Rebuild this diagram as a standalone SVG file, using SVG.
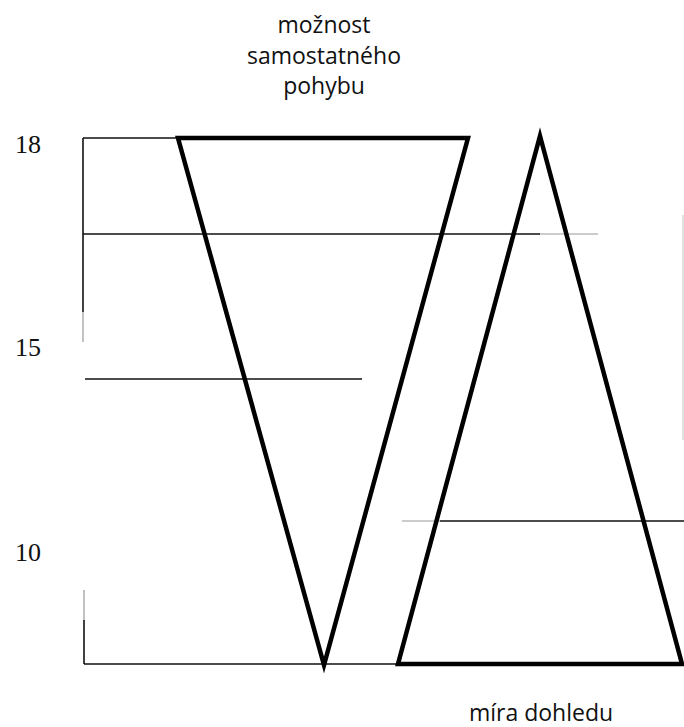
<svg xmlns="http://www.w3.org/2000/svg" width="684" height="727" viewBox="0 0 684 727">
<style>
.thin{stroke:#111;stroke-width:1.6;fill:none;stroke-linecap:butt}
.faint{stroke:#999;stroke-width:1.2;fill:none}
.thick{stroke:#000;stroke-width:4.5;fill:none;stroke-linejoin:miter}
.lab{font-family:"Open Sans","Noto Sans",sans-serif;font-size:23px;fill:#111;text-anchor:middle}
.num{font-family:"Liberation Serif",serif;font-size:26px;fill:#111}
</style>
<rect width="684" height="727" fill="#fff"/>
<g id="axis">
<line class="thin" x1="83" y1="138" x2="83" y2="312"/>
<line class="faint" x1="83" y1="312" x2="83" y2="342"/>
<line class="faint" x1="84" y1="590" x2="84" y2="620"/>
<line class="thin" x1="84" y1="620" x2="84" y2="664"/>
<line class="thin" x1="83" y1="138" x2="180" y2="138"/>
<line class="thin" x1="83" y1="234" x2="540" y2="234"/>
<line class="faint" x1="540" y1="234" x2="598" y2="234"/>
<line class="thin" x1="85" y1="379" x2="362" y2="379"/>
<line class="faint" x1="402" y1="521" x2="440" y2="521"/>
<line class="thin" x1="440" y1="521" x2="684" y2="521"/>
<line class="thin" x1="84" y1="664" x2="398" y2="664"/>
<line class="faint" x1="683" y1="215" x2="683" y2="440" style="stroke:#ccc"/>
</g>
<g id="labels-y">
<text class="num" x="15" y="153">18</text>
<text class="num" x="15" y="356">15</text>
<text class="num" x="15" y="561">10</text>
</g>
<g id="node-samostatny-pohyb">
<polygon class="thick" points="178,138 468,138 324,665"/>
<text class="lab" x="324" y="33">možnost</text>
<text class="lab" x="324" y="64">samostatného</text>
<text class="lab" x="324" y="94">pohybu</text>
</g>
<g id="node-dohled">
<polygon class="thick" points="540,136 682,664 398,664"/>
<text class="lab" x="541" y="721">míra dohledu</text>
</g>
</svg>
